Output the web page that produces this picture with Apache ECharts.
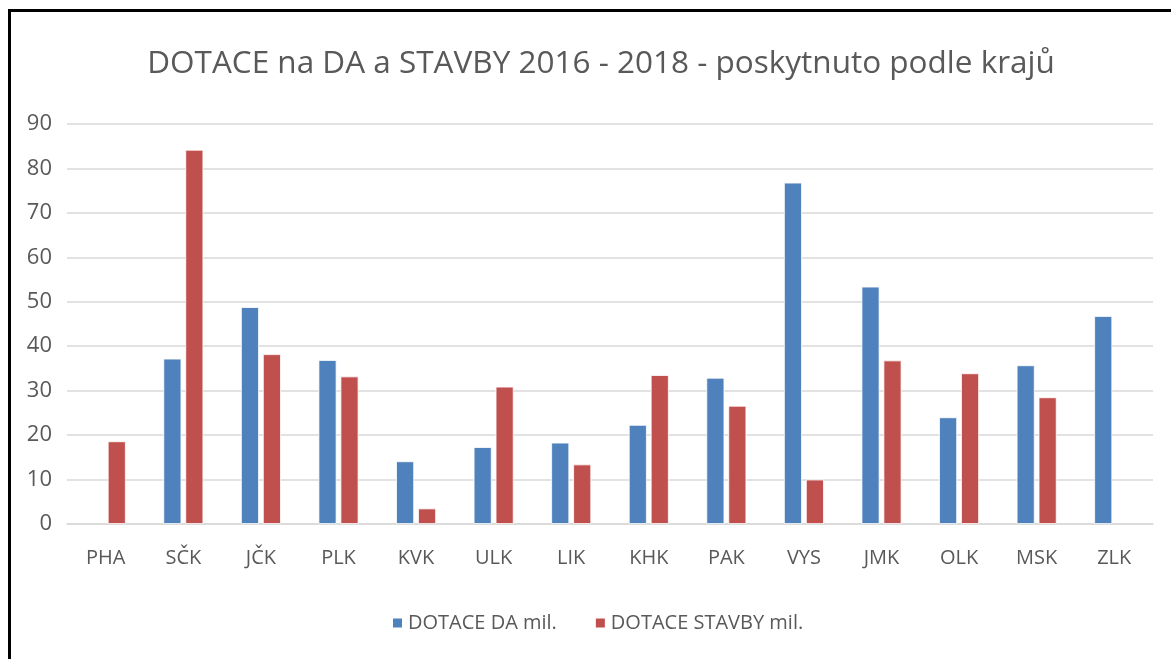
<!DOCTYPE html>
<html>
<head>
<meta charset="utf-8">
<script src="https://cdn.jsdelivr.net/npm/echarts@6/dist/echarts.min.js"></script>
<style>
    html, body { margin: 0; padding: 0; background: #fff; }
    #chart { width: 1171px; height: 659px; }
</style>
</head>
<body>
<div id="chart"></div>
<script>
// kraje
const regions = ['PHA', 'SČK', 'JČK', 'PLK', 'KVK', 'ULK', 'LIK', 'KHK', 'PAK', 'VYS', 'JMK', 'OLK', 'MSK', 'ZLK']
// dotace na DA (mil.)
const dotaceDA = [null, 37.2, 48.8, 36.9, 14.1, 17.3, 18.3, 22.3, 32.9, 76.8, 53.4, 24.0, 35.7, 46.8]
// dotace na stavby (mil.)
const dotaceStavby = [18.6, 84.2, 38.2, 33.2, 3.5, 30.9, 13.4, 33.5, 26.6, 10.0, 36.8, 33.9, 28.5, null]
const yTicks = [0, 10, 20, 30, 40, 50, 60, 70, 80, 90]

const font = '"Open Sans", "Noto Sans", sans-serif'
const grey = '#595959'

const cs = echarts.init(document.getElementById('chart'))

const option = {
    animation: false,
    title: {
        text: 'DOTACE na DA a STAVBY 2016 - 2018 - poskytnuto podle krajů',
        left: 596,
        textAlign: 'center',
        top: 43,
        textStyle: { fontFamily: font, fontSize: 31.5, fontWeight: 'normal', color: grey }
    },
    legend: {
        left: 386,
        top: 608,
        icon: 'rect',
        itemWidth: 11,
        itemHeight: 11,
        itemGap: 37,
        textStyle: { fontFamily: font, fontSize: 20, color: grey },
        data: ['DOTACE DA mil.', 'DOTACE STAVBY mil.']
    },
    grid: { left: 67, right: 18, top: 124, bottom: 135 },
    xAxis: {
        type: 'category',
        data: regions,
        axisLine: { lineStyle: { color: '#D9D9D9', width: 1.5 } },
        axisTick: { show: false },
        axisLabel: { margin: 24, fontFamily: font, fontSize: 20, color: grey }
    },
    yAxis: {
        type: 'value',
        min: yTicks[0],
        max: yTicks[yTicks.length - 1],
        interval: 10,
        axisLine: { show: false },
        axisTick: { show: false },
        splitLine: { lineStyle: { color: '#D9D9D9', width: 1.5 } },
        axisLabel: { margin: 15, fontFamily: font, fontSize: 22, color: grey }
    },
    // rámeček nahoře a vlevo
    graphic: [
        { type: 'rect', shape: { x: 8, y: 9, width: 1163, height: 3 }, style: { fill: '#000' } },
        { type: 'rect', shape: { x: 8, y: 9, width: 3, height: 650 }, style: { fill: '#000' } }
    ],
    series: [
        {
            name: 'DOTACE DA mil.',
            type: 'bar',
            data: dotaceDA,
            barWidth: 18,
            barGap: '22%',
            itemStyle: { color: '#4F81BD', borderColor: '#fff', borderWidth: 0.8 }
        },
        {
            name: 'DOTACE STAVBY mil.',
            type: 'bar',
            data: dotaceStavby,
            barWidth: 18,
            itemStyle: { color: '#C0504D', borderColor: '#fff', borderWidth: 0.8 }
        }
    ]
}
cs.setOption(option)
</script>
</body>
</html>
